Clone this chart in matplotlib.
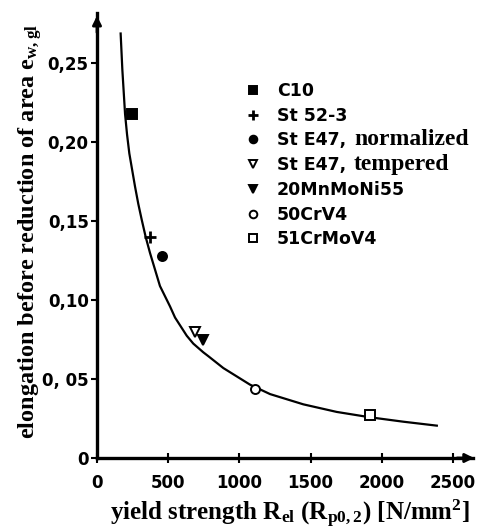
import matplotlib
matplotlib.use("Agg")
import matplotlib.pyplot as plt

plt.rcParams['mathtext.fontset'] = 'custom'
plt.rcParams['mathtext.rm'] = 'Liberation Serif:bold'
plt.rcParams['mathtext.it'] = 'Liberation Serif:bold'
plt.rcParams['mathtext.bf'] = 'Liberation Serif:bold'

sans = ["DejaVu Sans Condensed", "Liberation Sans Narrow", "DejaVu Sans"]

# measured points per steel
steels = ["C10", "St 52-3", "St E47,", "St E47,", "20MnMoNi55", "50CrV4", "51CrMoV4"]
steel_notes = ["", "", "normalized", "tempered", "", "", ""]
yield_strength = [248, 372, 459, 688, 744, 1110, 1917]
elongation = [0.218, 0.140, 0.128, 0.080, 0.075, 0.044, 0.027]
markers = ["s", "+", "o", "v", "v", "o", "s"]
filled = [True, True, True, False, True, False, False]

# fitted curve
curve_x = [166, 178, 197, 211, 227, 267, 290, 314, 342, 372, 442, 513, 548, 630, 676,
           746, 782, 887, 1074, 1215, 1449, 1683, 1917, 2151, 2386]
curve_y = [0.269, 0.246, 0.218, 0.205, 0.193, 0.172, 0.161, 0.151, 0.140, 0.130, 0.109,
           0.096, 0.089, 0.0775, 0.0725, 0.067, 0.0645, 0.057, 0.0465, 0.0405, 0.034,
           0.0292, 0.0258, 0.0230, 0.0205]

xticks = [0, 500, 1000, 1500, 2000, 2500]
yticks = [0, 0.05, 0.10, 0.15, 0.20, 0.25]
ytick_labels = ["0", "0, 05", "0,10", "0,15", "0,20", "0,25"]

fig = plt.figure(figsize=(4.83, 5.29), dpi=100)
ax = fig.add_axes([97/483, 71/529, 376/483, 445/529])

ax.plot(curve_x, curve_y, color="black", lw=1.6, solid_joinstyle="round")

def style(i):
    return dict(linestyle="none", marker=markers[i],
                mfc="black" if filled[i] else "white", mec="black",
                mew=2.0 if markers[i] == "+" else 1.4)

for i in range(len(steels)):
    ax.plot(yield_strength[i], elongation[i], ms=8 if markers[i] == "+" else 6.5, **style(i))

ax.set_xlim(0, 2640)
ax.set_ylim(0, 0.282)

for s in ["top", "right"]:
    ax.spines[s].set_visible(False)
for s in ["left", "bottom"]:
    ax.spines[s].set_linewidth(2.4)

# arrow heads on the axes
ax.annotate("", xy=(1.01, 0), xytext=(0.95, 0), xycoords="axes fraction",
            arrowprops=dict(arrowstyle="-|>", color="black", lw=2, mutation_scale=13), annotation_clip=False)
ax.annotate("", xy=(0, 1.0), xytext=(0, 0.95), xycoords="axes fraction",
            arrowprops=dict(arrowstyle="-|>", color="black", lw=2, mutation_scale=13), annotation_clip=False)

ax.set_xticks(xticks)
ax.set_xticklabels([str(v) for v in xticks])
ax.set_yticks(yticks)
ax.set_yticklabels(ytick_labels)
ax.tick_params(axis="x", direction="inout", length=7, width=1.5, pad=8)
ax.tick_params(axis="y", direction="out", length=4, width=1.5, pad=2)
for lab in ax.get_xticklabels() + ax.get_yticklabels():
    lab.set_fontfamily(sans)
    lab.set_fontweight("bold")
    lab.set_fontsize(12)

ax.set_xlabel("yield strength R$_{el}$ (R$_{p0,2}$) [N/mm$^{2}$]",
              fontfamily="Liberation Serif", fontweight="bold", fontsize=18)
ax.xaxis.set_label_coords(0.512, -0.088)
ax.set_ylabel("elongation before reduction of area e$_{w,gl}$",
              fontfamily="Liberation Serif", fontweight="bold", fontsize=17.5)
ax.yaxis.set_label_coords(-0.14, 0.51)

# legend, drawn by hand (two fonts in one entry)
renderer = fig.canvas.get_renderer()
row0 = (458 - 90) / 445
row_step = 24.7 / 445
mark_x = (253 - 97) / 376
text_x = (277 - 97) / 376
for i in range(len(steels)):
    y = row0 - i * row_step
    ax.plot(mark_x, y, transform=ax.transAxes, clip_on=False,
            ms=7 if markers[i] == "+" else 5.5, **style(i))
    t = ax.text(text_x, y - 6 / 445, steels[i], transform=ax.transAxes, va="baseline",
                fontfamily=sans, fontweight="bold", fontsize=12.5)
    if steel_notes[i]:
        bb = t.get_window_extent(renderer)
        x2 = ax.transAxes.inverted().transform((bb.x1 + 8, bb.y0))[0]
        ax.text(x2, y - 6 / 445, steel_notes[i], transform=ax.transAxes, va="baseline",
                fontfamily="Liberation Serif", fontweight="bold", fontsize=17)

fig.savefig("out.png", dpi=100)
